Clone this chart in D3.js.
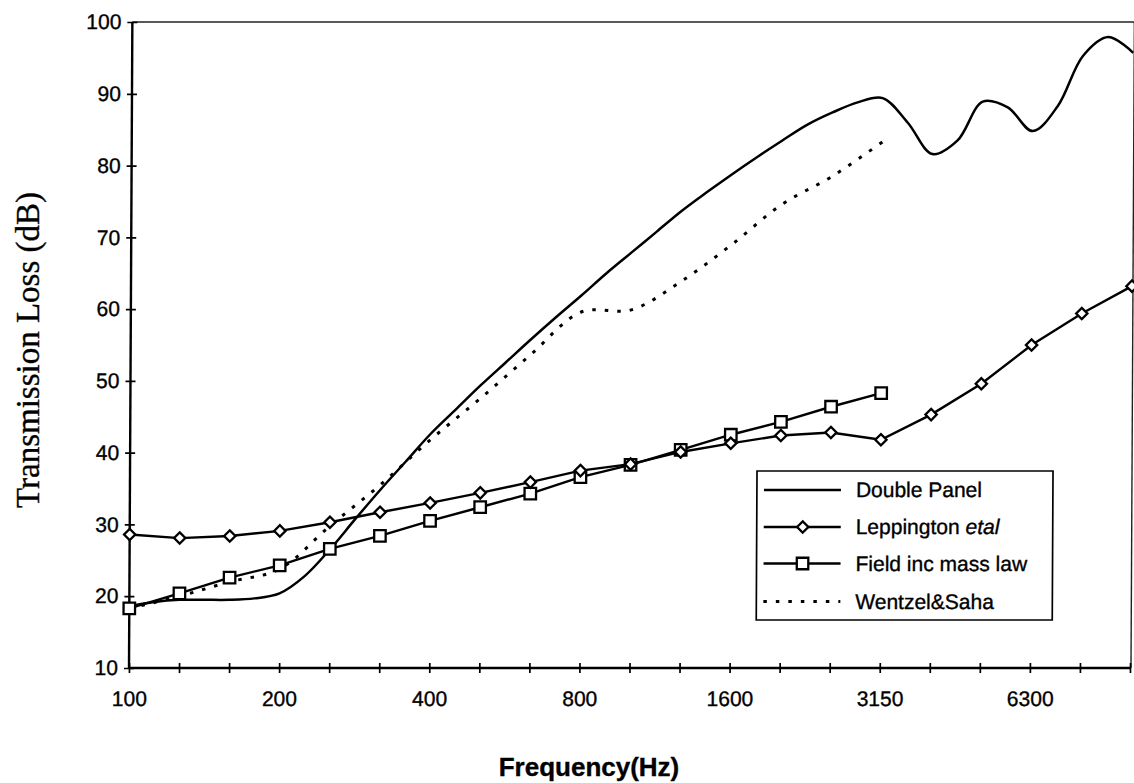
<!DOCTYPE html>
<html>
<head>
<meta charset="utf-8">
<script src="https://cdn.jsdelivr.net/npm/d3@7"></script>
<style>
  body { margin: 0; background: #fff; }
  svg { display: block; font-family: "Liberation Sans", Arial, sans-serif; }
  text { stroke: #000; stroke-width: 0.35px; }
</style>
</head>
<body>
<svg id="chart" width="1134" height="783"></svg>
<script>
// One-third octave band centre frequencies (Hz)
const bands = ["100","125","160","200","250","315","400","500","630","800","1000",
               "1250","1600","2000","2500","3150","4000","5000","6300","8000","10000"];
const labelledBands = ["100","200","400","800","1600","3150","6300"];
const yTicks = [10,20,30,40,50,60,70,80,90,100];

// Transmission loss (dB) per band
const leppington   = [28.6,28.1,28.4,29.1,30.3,31.7,33.0,34.4,35.9,37.5,38.4,
                      40.1,41.3,42.4,42.8,41.8,45.3,49.6,55.0,59.4,63.2];
const fieldMassLaw = [18.3,20.4,22.6,24.3,26.6,28.4,30.5,32.4,34.3,36.6,38.3,
                      40.4,42.5,44.3,46.4,48.3];
const wentzelSaha  = [18.3,20.0,22.0,23.8,29.8,35.5,41.8,47.6,53.7,59.6,59.9,
                      63.9,69.0,74.6,78.5,83.3];
// Double panel prediction, sixth-octave steps (two per band)
const doublePanel  = [18.6,19.2,19.5,19.5,19.5,19.7,20.4,22.8,26.5,30.7,
                      34.8,38.7,42.6,46.0,49.4,52.6,55.8,58.9,61.9,65.0,
                      67.9,70.8,73.7,76.3,78.8,81.2,83.5,85.7,87.4,88.8,
                      89.4,86.0,81.6,83.5,88.9,88.1,84.8,88.3,95.3,97.9,95.7];

const seriesNames = ["Double Panel", "Leppington ", "Field inc mass law", "Wentzel&Saha"];

const plotLeft = 129, plotRight = 1130, plotTop = 22, plotBottom = 668;

const svg = d3.select("#chart");
// slight shear so verticals lean like the printed figure
const g = svg.append("g").attr("transform", "matrix(1,0,-0.0052,1,3.47,0)");

const x = d3.scaleLinear().domain([0, bands.length - 1]).range([plotLeft, plotRight]);
const y = d3.scaleLinear().domain([10, 100]).range([plotBottom, plotTop]);

// plot frame: top and right edges
g.append("line").attr("x1", plotLeft).attr("x2", plotRight + 1).attr("y1", plotTop).attr("y2", plotTop)
  .attr("stroke", "#222").attr("stroke-width", 1.6);
g.append("line").attr("x1", plotRight + 1).attr("x2", plotRight + 1).attr("y1", plotTop).attr("y2", plotBottom)
  .attr("stroke", "#222").attr("stroke-width", 1.4);

// x axis: ticks crossing the axis line, labels every third band
const xAxis = d3.axisBottom(x)
  .tickValues(d3.range(bands.length))
  .tickSize(10).tickPadding(18)
  .tickFormat(i => labelledBands.includes(bands[i]) ? bands[i] : "");
const gx = g.append("g").attr("transform", `translate(0,${plotBottom - 5})`).call(xAxis);
gx.select(".domain").remove();
gx.selectAll(".tick line").attr("stroke", "#000").attr("stroke-width", 1.7);
gx.selectAll(".tick text").attr("font-size", 21).attr("fill", "#000")
  .attr("font-family", "'Liberation Sans', Arial, sans-serif");

// y axis
const yAxis = d3.axisLeft(y).tickValues(yTicks).tickSize(10).tickPadding(6);
const gy = g.append("g").attr("transform", `translate(${plotLeft + 5},0)`).call(yAxis);
gy.select(".domain").remove();
gy.selectAll(".tick line").attr("stroke", "#000").attr("stroke-width", 1.7);
gy.selectAll(".tick text").attr("font-size", 21).attr("fill", "#000")
  .attr("font-family", "'Liberation Sans', Arial, sans-serif");

// axis lines
g.append("line").attr("x1", plotLeft).attr("x2", plotRight + 1).attr("y1", plotBottom).attr("y2", plotBottom)
  .attr("stroke", "#000").attr("stroke-width", 2.4);
g.append("line").attr("x1", plotLeft).attr("x2", plotLeft).attr("y1", plotTop).attr("y2", plotBottom)
  .attr("stroke", "#000").attr("stroke-width", 2.4);

const smooth = d3.line().curve(d3.curveCatmullRom.alpha(0.5));
const straight = d3.line();

// Double Panel
g.append("path")
  .attr("d", smooth(doublePanel.map((v, i) => [x(i / 2), y(v)])))
  .attr("fill", "none").attr("stroke", "#000").attr("stroke-width", 2.5);

// Wentzel & Saha (dotted)
g.append("path")
  .attr("d", smooth(wentzelSaha.map((v, i) => [x(i), y(v)])))
  .attr("fill", "none").attr("stroke", "#000").attr("stroke-width", 3)
  .attr("stroke-dasharray", "3.5,9");

// Field incidence mass law (squares)
g.append("path")
  .attr("d", straight(fieldMassLaw.map((v, i) => [x(i), y(v)])))
  .attr("fill", "none").attr("stroke", "#000").attr("stroke-width", 2.4);

// Leppington et al (diamonds)
g.append("path")
  .attr("d", straight(leppington.map((v, i) => [x(i), y(v)])))
  .attr("fill", "none").attr("stroke", "#000").attr("stroke-width", 2.4);

const square = d3.symbol().type(d3.symbolSquare).size(132);
const diamond = d3.symbol().type(d3.symbolSquare).size(64);

g.selectAll(".sq").data(fieldMassLaw).join("path").attr("class", "sq")
  .attr("transform", (v, i) => `translate(${x(i)},${y(v)})`)
  .attr("d", square).attr("fill", "#fff").attr("stroke", "#000").attr("stroke-width", 2.3);

g.selectAll(".dm").data(leppington).join("path").attr("class", "dm")
  .attr("transform", (v, i) => `translate(${x(i)},${y(v)}) rotate(45)`)
  .attr("d", diamond)
  .attr("fill", "#fff").attr("stroke", "#000").attr("stroke-width", 2.3);

// legend
const lg = g.append("g");
lg.append("rect").attr("x", 756).attr("y", 471).attr("width", 296).attr("height", 149)
  .attr("fill", "#fff").attr("stroke", "#000").attr("stroke-width", 1.7);
const rowsY = [490, 527, 563.5, 601.5];
const styles = [
  { dash: null, w: 2.5, marker: null },
  { dash: null, w: 2.4, marker: "diamond" },
  { dash: null, w: 2.4, marker: "square" },
  { dash: "3.5,9", w: 3, marker: null }
];
seriesNames.forEach((name, k) => {
  const yy = rowsY[k];
  const ln = lg.append("line").attr("x1", 763).attr("x2", 840).attr("y1", yy).attr("y2", yy)
    .attr("stroke", "#000").attr("stroke-width", styles[k].w);
  if (styles[k].dash) ln.attr("stroke-dasharray", styles[k].dash);
  if (styles[k].marker === "diamond") {
    lg.append("path").attr("transform", `translate(802,${yy}) rotate(45)`)
      .attr("d", diamond)
      .attr("fill", "#fff").attr("stroke", "#000").attr("stroke-width", 2.3);
  } else if (styles[k].marker === "square") {
    lg.append("path").attr("transform", `translate(802,${yy})`).attr("d", square)
      .attr("fill", "#fff").attr("stroke", "#000").attr("stroke-width", 2.3);
  }
  const t = lg.append("text").attr("x", 855).attr("y", yy).attr("dy", "0.35em")
    .attr("font-size", 21).attr("fill", "#000").text(name);
  if (k === 1) t.append("tspan").attr("font-style", "italic").text("etal");
});

// axis titles
svg.append("text")
  .attr("transform", "translate(39,350) rotate(-90)")
  .attr("text-anchor", "middle")
  .attr("font-family", "'Liberation Serif', 'Times New Roman', serif")
  .attr("font-size", 33).attr("fill", "#000")
  .text("Transmission Loss (dB)");

svg.append("text")
  .attr("x", 589).attr("y", 776)
  .attr("text-anchor", "middle")
  .attr("font-weight", "bold").attr("font-size", 26).attr("fill", "#000")
  .text("Frequency(Hz)");
</script>
</body>
</html>
